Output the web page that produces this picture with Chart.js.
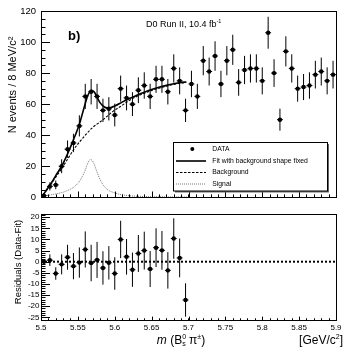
<!DOCTYPE html>
<html><head><meta charset="utf-8">
<script src="https://cdn.jsdelivr.net/npm/chart.js@4.4.1/dist/chart.umd.min.js"></script>
<style>
html,body{margin:0;padding:0;background:#fff;}
#wrap{position:relative;width:360px;height:349px;overflow:hidden;background:#fff;}
#c1{position:absolute;left:0;top:0;}
#c2{position:absolute;left:0;top:208px;}
</style></head><body>
<div id="wrap"><canvas id="c1" width="360" height="208"></canvas><canvas id="c2" width="360" height="141"></canvas></div>
<script>
// ---------- data ----------
const binCenters = [5.504,5.512,5.520,5.528,5.536,5.544,5.552,5.560,5.568,5.576,
  5.584,5.592,5.600,5.608,5.616,5.624,5.632,5.640,5.648,5.656,
  5.664,5.672,5.680,5.688,5.696,5.704,5.712,5.720,5.728,5.736,
  5.744,5.752,5.760,5.768,5.776,5.784,5.792,5.800,5.808,5.816,
  5.824,5.832,5.840,5.848,5.856,5.864,5.872,5.880,5.888,5.896];
const counts = [1,7,8,20,31,35,46,65,68,65,
  56,57,53,70,64,60,69,72,65,76,
  76,68,83,75,56,73,65,88,81,91,
  73,88,95,74,82,83,83,75,106,80,
  50,94,83,70,71,72,79,81,75,79];
const countErrors = [1.0,2.6,2.8,4.5,5.6,5.9,6.8,8.1,8.2,8.1,
  7.5,7.5,7.3,8.4,8.0,7.7,8.3,8.5,8.1,8.7,
  8.7,8.2,9.1,8.7,7.5,8.5,8.1,9.4,9.0,9.5,
  8.5,9.4,9.7,8.6,9.1,9.1,9.1,8.7,10.3,8.9,
  7.1,9.7,9.1,8.4,8.4,8.5,8.9,9.0,8.7,8.9];
const fitMass = [5.500,5.505,5.510,5.515,5.520,5.528,5.536,5.544,5.552,5.558,5.563,5.568,5.572,5.576,5.580,5.585,5.590,5.595,5.600,5.610,5.620,5.630,5.640,5.650,5.660,5.670,5.680,5.690,5.697];
const fitValues = [0,3,6.5,10,14,20,28,37,47,57,65,69,68,64.5,61,58.5,57.6,57.9,58.8,61.3,63.6,65.8,67.7,69.4,70.9,72.1,73.1,73.9,74.3];
const bkgMass = [5.500,5.510,5.520,5.528,5.536,5.544,5.552,5.560,5.570,5.580,5.586,5.590,5.598,5.610,5.620,5.630,5.640,5.650,5.660,5.670,5.680,5.690,5.697];
const bkgValues = [0,6,13,18.5,24.5,30.5,35.5,40,45,48.5,50.7,52.3,55.5,59.2,62.5,65,67,68.8,70.3,71.6,72.7,73.6,74.1];
const sigMass = [5.500,5.510,5.520,5.530,5.535,5.540,5.545,5.550,5.555,5.560,5.563,5.567,5.571,5.575,5.580,5.585,5.590,5.600,5.610,5.620,5.640,5.660,5.680,5.700];
const sigValues = [0.8,1.3,2.2,3.3,4.2,5.2,6.8,9,12.5,17.5,21.5,24.4,22.5,17.5,11.5,7.5,5,2.8,1.6,1.0,0.5,0.3,0.2,0.15];
const residuals = [0,0.7,-5.3,-1.2,2,-2,-0.4,5.5,-0.6,0.8,
  -2.8,-0.5,-5.3,10,2.2,-3.6,3.7,5,-3.3,6.3,
  5.1,-3.9,10.4,1.7,-17.2];
const zeroLineMass = [5.5, 5.9];
const zeroLineValues = [0, 0];
const xTickValues = [5.5,5.55,5.6,5.65,5.7,5.75,5.8,5.85,5.9];
const xTickLabels = ['5.5','5.55','5.6','5.65','5.7','5.75','5.8','5.85','5.9'];
const yTicksTop = [0,20,40,60,80,100,120];
const yTicksRes = [-25,-20,-15,-10,-5,0,5,10,15,20];
const binHalfWidth = 0.004;

// ---------- helpers ----------
const FONT = '"Liberation Sans", Arial, Helvetica, sans-serif';
const pts = (xs, ys) => xs.map((x, i) => ({x, y: ys[i]}));

function drawFrameAndTicks(chart, o) {
  const {ctx, chartArea: a, scales: {x, y}} = chart;
  ctx.save();
  ctx.strokeStyle = '#000';
  ctx.lineWidth = 1;
  ctx.beginPath();
  for (let v = x.min; v <= x.max + 1e-9; v += 0.01) {
    const px = Math.round(x.getPixelForValue(v)) + 0.5;
    ctx.moveTo(px, a.bottom); ctx.lineTo(px, a.bottom - o.xMin);
  }
  xTickValues.forEach(v => {
    const px = Math.round(x.getPixelForValue(v)) + 0.5;
    ctx.moveTo(px, a.bottom); ctx.lineTo(px, a.bottom - o.xMaj);
  });
  const start = Math.ceil(y.min / o.yMinorStep) * o.yMinorStep;
  for (let v = start; v <= y.max + 1e-9; v += o.yMinorStep) {
    const py = Math.round(y.getPixelForValue(v)) + 0.5;
    ctx.moveTo(a.left, py); ctx.lineTo(a.left + o.yMin, py);
  }
  o.yMajors.forEach(v => {
    const py = Math.round(y.getPixelForValue(v)) + 0.5;
    ctx.moveTo(a.left, py); ctx.lineTo(a.left + o.yMaj, py);
  });
  ctx.stroke();
  ctx.strokeRect(Math.round(a.left) + 0.5, Math.round(a.top) + 0.5,
                 Math.round(a.right - a.left), Math.round(a.bottom - a.top));
  ctx.restore();
}

function drawErrorBars(chart, xs, ys, es) {
  const {ctx, scales: {x, y}} = chart;
  ctx.save();
  ctx.strokeStyle = '#000';
  ctx.lineWidth = 1;
  ctx.beginPath();
  xs.forEach((m, i) => {
    const px = x.getPixelForValue(m);
    const y1 = y.getPixelForValue(ys[i] - es[i]);
    const y2 = y.getPixelForValue(ys[i] + es[i]);
    const py = y.getPixelForValue(ys[i]);
    ctx.moveTo(px, y1); ctx.lineTo(px, y2);
    ctx.moveTo(x.getPixelForValue(m - binHalfWidth), py);
    ctx.lineTo(x.getPixelForValue(m + binHalfWidth), py);
  });
  ctx.stroke();
  ctx.restore();
}

function drawRuns(ctx, runs, x, y, align) {
  let total = 0;
  runs.forEach(r => { ctx.font = r.font; r.w = r.nowidth ? 0 : ctx.measureText(r.t).width; total += r.w; });
  let cx = align === 'center' ? x - total / 2 : (align === 'right' ? x - total : x);
  ctx.textAlign = 'left';
  runs.forEach(r => { ctx.font = r.font; ctx.fillText(r.t, cx, y + (r.dy || 0)); cx += r.w; });
}

const topPlugin = {
  id: 'topDecor',
  beforeDatasetsDraw(chart) { drawErrorBars(chart, binCenters, counts, countErrors); },
  afterDraw(chart) {
    drawFrameAndTicks(chart, {xMin: 2.9, xMaj: 5.8, yMin: 4.5, yMaj: 9, yMinorStep: 5, yMajors: yTicksTop});
    const ctx = chart.ctx;
    ctx.save();
    ctx.fillStyle = '#000';
    ctx.textBaseline = 'alphabetic';
    ctx.save();
    ctx.translate(15.5, 85);
    ctx.rotate(-Math.PI / 2);
    ctx.font = '11px ' + FONT; ctx.textAlign = 'center';
    ctx.fillText('N events / 8 MeV/c²', 0, 0);
    ctx.restore();
    drawRuns(ctx, [
      {t: 'D0 Run II, 10.4 fb', font: '9px ' + FONT},
      {t: '-1', font: '5.5px ' + FONT, dy: -4}
    ], 146, 27, 'left');
    ctx.font = 'bold 13px ' + FONT; ctx.textAlign = 'left';
    ctx.fillText('b)', 68, 40);
    const L = {x: 173.5, y: 142.5, w: 154, h: 48.5};
    ctx.fillStyle = '#666';
    ctx.fillRect(L.x + 1.5, L.y + 1.5, L.w, L.h);
    ctx.fillStyle = '#fff';
    ctx.fillRect(L.x, L.y, L.w, L.h);
    ctx.strokeStyle = '#000'; ctx.lineWidth = 1;
    ctx.strokeRect(L.x, L.y, L.w, L.h);
    ctx.fillStyle = '#000';
    ctx.beginPath(); ctx.arc(192.3, 149, 2, 0, Math.PI * 2); ctx.fill();
    ctx.beginPath(); ctx.lineWidth = 1.6; ctx.moveTo(176, 161); ctx.lineTo(206, 161); ctx.stroke();
    ctx.beginPath(); ctx.lineWidth = 1.1; ctx.setLineDash([2.5, 1.5]); ctx.moveTo(176, 172.5); ctx.lineTo(206, 172.5); ctx.stroke();
    ctx.beginPath(); ctx.strokeStyle = '#777'; ctx.lineWidth = 1; ctx.setLineDash([1, 1]); ctx.moveTo(176, 184); ctx.lineTo(206, 184); ctx.stroke();
    ctx.setLineDash([]);
    ctx.font = '6.8px ' + FONT; ctx.textAlign = 'left'; ctx.textBaseline = 'middle';
    ctx.fillText('DATA', 212.3, 149);
    ctx.fillText('Fit with background shape fixed', 212.3, 161);
    ctx.fillText('Background', 212.3, 172.5);
    ctx.fillText('Signal', 212.3, 184);
    ctx.restore();
  }
};

const botPlugin = {
  id: 'botDecor',
  beforeDatasetsDraw(chart) {
    drawErrorBars(chart, binCenters.slice(0, residuals.length), residuals, countErrors.slice(0, residuals.length));
  },
  afterDraw(chart) {
    drawFrameAndTicks(chart, {xMin: 1.7, xMaj: 3.4, yMin: 4.5, yMaj: 9, yMinorStep: 1, yMajors: yTicksRes});
    const ctx = chart.ctx;
    ctx.save();
    ctx.fillStyle = '#000';
    ctx.textBaseline = 'alphabetic';
    ctx.save();
    ctx.translate(20.5, 54);
    ctx.rotate(-Math.PI / 2);
    ctx.font = '9.5px ' + FONT; ctx.textAlign = 'center';
    ctx.fillText('Residuals (Data-Fit)', 0, 0);
    ctx.restore();
    const f = '12px ' + FONT, fs = '7px ' + FONT;
    drawRuns(ctx, [
      {t: 'm', font: 'italic ' + f},
      {t: ' (B', font: f},
      {t: '0', font: fs, dy: -5, nowidth: true},
      {t: 's', font: fs, dy: 2},
      {t: ' π', font: f},
      {t: '±', font: fs, dy: -5},
      {t: ')', font: f}
    ], 181, 136, 'center');
    drawRuns(ctx, [
      {t: '[GeV/c', font: f},
      {t: '2', font: fs, dy: -5},
      {t: ']', font: f}
    ], 343, 136, 'right');
    ctx.restore();
  }
};

// ---------- charts ----------
Chart.defaults.font.family = FONT;
Chart.defaults.color = '#000';

new Chart(document.getElementById('c1'), {
  type: 'scatter',
  data: {datasets: [
    {label: 'DATA', data: pts(binCenters, counts), pointRadius: 2.2, pointBackgroundColor: '#000', pointBorderWidth: 0, showLine: false},
    {label: 'Fit', data: pts(fitMass, fitValues), showLine: true, borderColor: '#000', borderWidth: 1.6, pointRadius: 0, cubicInterpolationMode: 'monotone'},
    {label: 'Background', data: pts(bkgMass, bkgValues), showLine: true, borderColor: '#000', borderWidth: 1.1, borderDash: [2.5, 1.5], pointRadius: 0, cubicInterpolationMode: 'monotone'},
    {label: 'Signal', data: pts(sigMass, sigValues), showLine: true, borderColor: '#777', borderWidth: 1, borderDash: [1, 1], pointRadius: 0, cubicInterpolationMode: 'monotone'}
  ]},
  options: {
    responsive: false, animation: false, devicePixelRatio: 1,
    layout: {padding: {top: 11, right: 24, bottom: 2.5, left: 0}},
    plugins: {legend: {display: false}, tooltip: {enabled: false}},
    scales: {
      x: {type: 'linear', min: 5.5, max: 5.9, display: false},
      y: {type: 'linear', min: 0, max: 120,
          afterFit: s => { s.width = 41; },
          afterBuildTicks: s => { s.ticks = yTicksTop.map(v => ({value: v})); },
          grid: {display: false, drawTicks: false}, border: {display: false},
          ticks: {font: {size: 9.5}, padding: 5, color: '#000', autoSkip: false, callback: v => String(v)}}
    }
  },
  plugins: [topPlugin]
});

new Chart(document.getElementById('c2'), {
  type: 'scatter',
  data: {datasets: [
    {label: 'Residuals', data: pts(binCenters.slice(0, residuals.length), residuals), pointRadius: 2.2, pointBackgroundColor: '#000', pointBorderWidth: 0, showLine: false},
    {label: 'Zero', data: pts(zeroLineMass, zeroLineValues), showLine: true, borderColor: '#000', borderWidth: 2, borderDash: [2, 2], pointRadius: 0}
  ]},
  options: {
    responsive: false, animation: false, devicePixelRatio: 1,
    layout: {padding: {top: 3.3, right: 24, bottom: 0, left: 0}},
    plugins: {legend: {display: false}, tooltip: {enabled: false}},
    scales: {
      x: {type: 'linear', min: 5.5, max: 5.9,
          afterFit: s => { s.height = 29; },
          afterBuildTicks: s => { s.ticks = xTickValues.map(v => ({value: v})); },
          grid: {display: false, drawTicks: false}, border: {display: false},
          ticks: {font: {size: 8}, padding: 3, color: '#000', autoSkip: false, maxRotation: 0,
                  callback: (v, i) => xTickLabels[i]}},
      y: {type: 'linear', min: -26.2, max: 21.3,
          afterFit: s => { s.width = 41; },
          afterBuildTicks: s => { s.ticks = yTicksRes.map(v => ({value: v})); },
          grid: {display: false, drawTicks: false}, border: {display: false},
          ticks: {font: {size: 8}, padding: 1.5, color: '#000', autoSkip: false, callback: v => String(v)}}
    }
  },
  plugins: [botPlugin]
});
</script>
</body></html>
